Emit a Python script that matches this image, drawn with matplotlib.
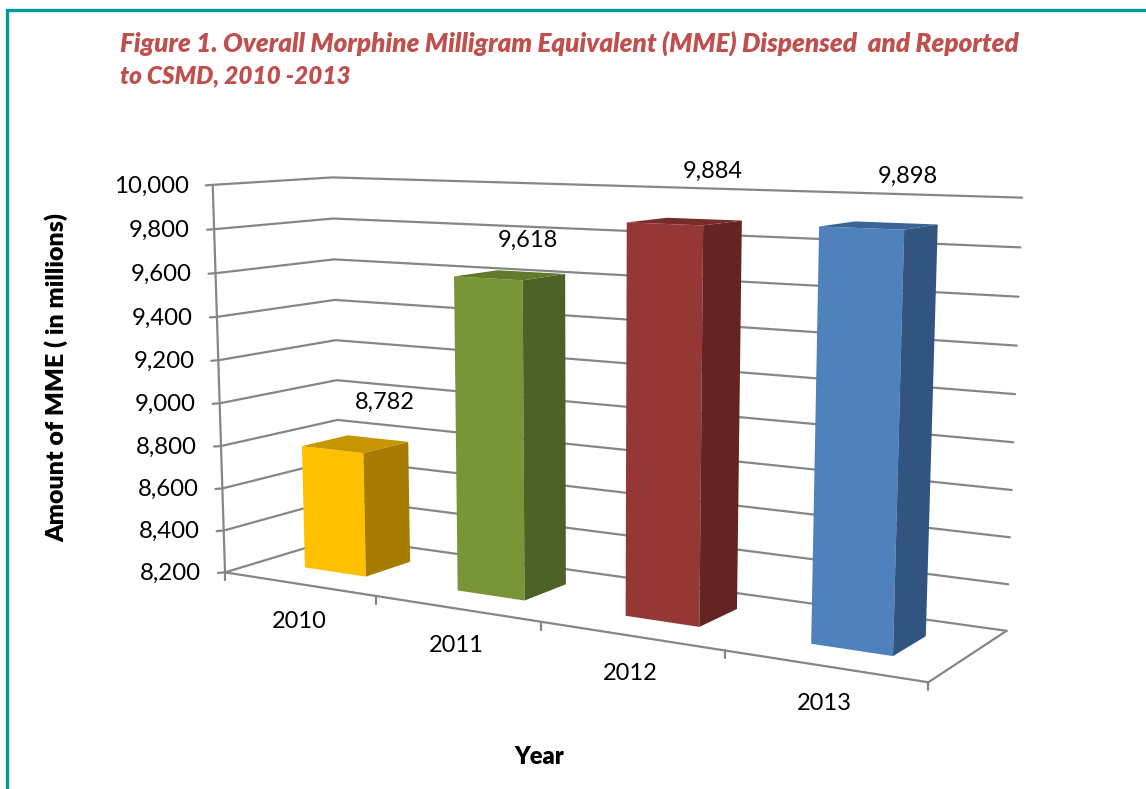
import numpy as np
import matplotlib
matplotlib.use("Agg")
import matplotlib.pyplot as plt
from matplotlib.patches import Polygon

# ---- data ----
years = ["2010", "2011", "2012", "2013"]
mme_values = [8782, 9618, 9884, 9898]
y_ticks = [8200, 8400, 8600, 8800, 9000, 9200, 9400, 9600, 9800, 10000]

# ---- styles ----
front_colors = ["#FFC000", "#789538", "#953735", "#4F81BD"]
side_colors = ["#A67D00", "#4E6126", "#632423", "#315580"]
top_colors = ["#C79500", "#5F7A2A", "#772C2A", "#3A6496"]
label_offsets = [(52, -47), (40, -38), (48, -53), (46, -52)]
GRID = "#868686"
plt.rcParams["font.family"] = ["Lato", "DejaVu Sans"]

YMIN, YMAX = y_ticks[0], y_ticks[-1]
BAR_W, BAR_D0, BAR_D1 = 0.41, 0.31, 0.71

# projective camera fitted to the plot-box corners (u along x, v depth, w height -> pixels)
anchors = [((0, 0, 0), (226, 570)), ((0, 0, 1), (212, 185)),
           ((0, 1, 0), (339, 540)), ((0, 1, 1), (333, 177)),
           ((1, 1, 0), (1007, 628)), ((1, 1, 1), (1022, 198)),
           ((1, 0, 0), (928, 685))]
rows = []
for (u, v, w), (px, py) in anchors:
    X = [u, v, w, 1]
    rows.append(X + [0, 0, 0, 0] + [-px * c for c in X])
    rows.append([0, 0, 0, 0] + X + [-py * c for c in X])
P = np.linalg.svd(np.array(rows, float))[2][-1].reshape(3, 4)


def proj(u, v, value):
    w = (value - YMIN) / (YMAX - YMIN)
    h = P @ np.array([u, v, w, 1.0])
    return h[0] / h[2], h[1] / h[2]


fig = plt.figure(figsize=(11.46, 7.89), dpi=100, facecolor="white")
ax = fig.add_axes([0, 0, 1, 1])
ax.set_xlim(0, 1146)
ax.set_ylim(789, 0)
ax.axis("off")

# outer frame
ax.plot([6.5, 6.5, 1146], [789, 9.5, 9.5], color="#009999", lw=2.4, solid_joinstyle="miter")

# title
ax.text(120, 43, "Figure 1. Overall Morphine Milligram Equivalent (MME) Dispensed  and Reported",
        color="#C0504D", fontsize=18.7, fontweight=800, style="italic", va="center", ha="left")
ax.text(120, 76, "to CSMD, 2010 -2013",
        color="#C0504D", fontsize=17.5, fontweight=800, style="italic", va="center", ha="left")

# gridlines on side + back walls, ticks and labels
lkw = dict(color=GRID, lw=1.6, solid_capstyle="round", solid_joinstyle="round", zorder=1)
for t in y_ticks:
    a, b, c = proj(0, 0, t), proj(0, 1, t), proj(1, 1, t)
    ax.plot([a[0] - 7, a[0], b[0], c[0]], [a[1] + 0.5, a[1], b[1], c[1]], **lkw)
    ax.text(a[0] - 24, a[1] + 1, f"{t:,}", ha="right", va="center", fontsize=17.3, color="black")

# axis lines
a, b = proj(0, 0, YMIN), proj(0, 0, YMAX)
ax.plot([a[0], b[0]], [a[1], b[1]], **lkw)
f1, f2, f3 = proj(0, 0, YMIN), proj(1, 0, YMIN), proj(1, 1, YMIN)
ax.plot([f1[0], f2[0], f3[0]], [f1[1], f2[1], f3[1]], **lkw)

# category ticks and labels
n = len(years)
for i in range(n + 1):
    p = proj(i / n, 0, YMIN)
    ax.plot([p[0], p[0]], [p[1], p[1] + 8], **lkw)
label_pos = [(299, 621), (456, 646), (630, 673), (824, 704)]
for yr, (lx, ly) in zip(years, label_pos):
    ax.text(lx, ly, yr, ha="center", va="center", fontsize=17, color="black")

# bars
for i, val in enumerate(mme_values):
    u0 = (i + 0.5 - BAR_W / 2) / n
    u1 = (i + 0.5 + BAR_W / 2) / n
    fl_b, fr_b = proj(u0, BAR_D0, YMIN), proj(u1, BAR_D0, YMIN)
    fl_t, fr_t = proj(u0, BAR_D0, val), proj(u1, BAR_D0, val)
    br_b, br_t = proj(u1, BAR_D1, YMIN), proj(u1, BAR_D1, val)
    bl_t = proj(u0, BAR_D1, val)
    ax.add_patch(Polygon([fl_b, fr_b, fr_t, fl_t], fc=front_colors[i], ec="none", zorder=3))
    ax.add_patch(Polygon([fr_b, br_b, br_t, fr_t], fc=side_colors[i], ec="none", zorder=3))
    ax.add_patch(Polygon([fl_t, fr_t, br_t, bl_t], fc=top_colors[i], ec="none", zorder=3))
    cx = (fl_t[0] + fr_t[0]) / 2
    cy = (fl_t[1] + fr_t[1]) / 2
    ax.text(cx + label_offsets[i][0], cy + label_offsets[i][1], f"{val:,}",
            ha="center", va="center", fontsize=17, color="black", zorder=4)

# axis titles
ax.text(56, 377, "Amount of MME ( in millions)", rotation=90, ha="center", va="center",
        fontsize=18, fontweight=800, color="black")
ax.text(539, 757, "Year", ha="center", va="center", fontsize=17, fontweight=800, color="black")

fig.savefig("out.png", dpi=100, facecolor="white")
